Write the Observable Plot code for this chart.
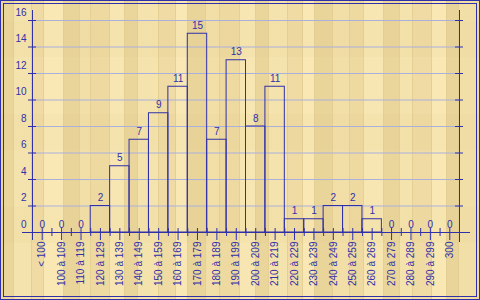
<!DOCTYPE html>
<html>
<head>
<meta charset="utf-8">
<script src="https://cdn.jsdelivr.net/npm/d3@7"></script>
<script src="https://cdn.jsdelivr.net/npm/@observablehq/plot@0.6"></script>
<style>
  html, body { margin: 0; padding: 0; background: #f0dca4; }
  #wrap { position: relative; width: 480px; height: 300px; overflow: hidden; }
  #wood { position: absolute; left: 0; top: 0; width: 480px; height: 300px; }
  #chart { position: absolute; left: 0; top: 0; }
  .ring { position: absolute; box-sizing: border-box; pointer-events: none; }
  #ring1 { left: 0; top: 0; width: 480px; height: 300px; border: 1px solid #3030a8; }
  #ring2 { left: 3px; top: 3px; width: 474px; height: 294px; border: 1px solid #3030a8; }
</style>
</head>
<body>
<div id="wrap">
  <div id="wood"></div>
  <div id="chart"></div>
  <div class="ring" id="ring1"></div>
  <div class="ring" id="ring2"></div>
</div>
<script>
// ---- data ----
const categories = ["< 100", "100 à 109", "110 à 119", "120 à 129", "130 à 139", "140 à 149",
  "150 à 159", "160 à 169", "170 à 179", "180 à 189", "190 à 199", "200 à 209", "210 à 219",
  "220 à 229", "230 à 239", "240 à 249", "250 à 259", "260 à 269", "270 à 279", "280 à 289",
  "290 à 299", "300"];
const counts = [0, 0, 0, 2, 5, 7, 9, 11, 15, 7, 13, 8, 11, 1, 1, 2, 2, 1, 0, 0, 0, 0];
const yTicks = [0, 2, 4, 6, 8, 10, 12, 14, 16];
const gridValues = [2, 4, 6, 8, 10, 12, 14, 16];

// ---- wood-like background (decoration only) ----
(function () {
  const tones = ["#f5e3ad", "#eed9a0", "#f9e8b4", "#ead59b", "#f2dfa8", "#efdba3", "#f7e6b1", "#e9d49a"];
  const widths = [14, 18, 12, 20, 16, 11, 19, 15, 13, 21, 17, 12, 18, 14, 20, 16, 13, 19, 15, 12, 18, 17, 14, 20, 16, 13, 19, 15, 12, 18, 16];
  let pos = 0, stops = [], k = 0;
  while (pos < 480) {
    const w = widths[k % widths.length];
    const c = tones[(k * 5 + 3) % tones.length];
    stops.push(`${c} ${pos}px`, `${c} ${pos + w - 1}px`, `#e4cf95 ${pos + w - 1}px`, `#e4cf95 ${pos + w}px`);
    pos += w; k++;
  }
  const wood = document.getElementById("wood");
  wood.style.backgroundImage =
    "repeating-linear-gradient(0deg, rgba(255,255,255,0) 0px, rgba(255,255,255,0) 57px, rgba(200,170,100,0.05) 57px, rgba(200,170,100,0.05) 93px)," +
    `linear-gradient(90deg, ${stops.join(", ")})`;
})();

const rows = categories.map((c, i) => ({i, cat: c, n: counts[i]}));
const bars = rows.filter(d => d.n > 0);
const boundaries = d3.range(1, categories.length);
const blue = "#3030a8";

const chart = Plot.plot({
  width: 480,
  height: 300,
  marginLeft: 32,
  marginRight: 21,
  marginTop: 10,
  marginBottom: 60,
  x: {type: "linear", domain: [0, categories.length], range: [32, 459], axis: null},
  y: {domain: [0, 16], range: [232, 20], axis: null},
  style: {background: "none", fontFamily: "'Liberation Sans', Arial, sans-serif", fontSize: "10px", overflow: "visible"},
  marks: [
    Plot.ruleY(gridValues, {stroke: "#aab0dc", strokeWidth: 1}),
    Plot.rectY(bars, {x1: d => d.i, x2: d => d.i + 1, y1: 0, y2: "n", fill: "none", stroke: blue, strokeWidth: 1}),
    // axes
    Plot.ruleY([0], {stroke: blue, insetLeft: -10, insetRight: -11}),
    Plot.ruleX([0], {stroke: blue}),
    Plot.ruleX([categories.length], {stroke: blue, insetBottom: -2}),
    Plot.ruleY(yTicks, {x1: 0, x2: 0, insetLeft: -4, insetRight: -4, stroke: blue}),
    Plot.ruleY(yTicks, {x1: categories.length, x2: categories.length, insetLeft: -4, insetRight: -4, stroke: blue}),
    Plot.ruleX(boundaries, {y1: 0, y2: 0, insetTop: -4, insetBottom: -4, stroke: blue}),
    Plot.ruleX(rows, {x: d => d.i + 0.5, y1: 0, y2: 0, insetTop: -4, insetBottom: -8, stroke: blue}),
    // labels
    Plot.text(yTicks, {x: 0, y: d => d, text: d => String(d), textAnchor: "end", lineAnchor: "bottom", dx: -6, dy: -5, fill: blue}),
    Plot.text(rows, {x: d => d.i + 0.5, y: "n", text: d => String(d.n), lineAnchor: "bottom", dy: -5, fill: blue}),
    Plot.text(rows, {x: d => d.i + 0.5, y: 0, text: "cat", rotate: -90, textAnchor: "end", lineAnchor: "middle", dy: 9, fill: blue})
  ]
});
document.getElementById("chart").appendChild(chart);
</script>
</body>
</html>
